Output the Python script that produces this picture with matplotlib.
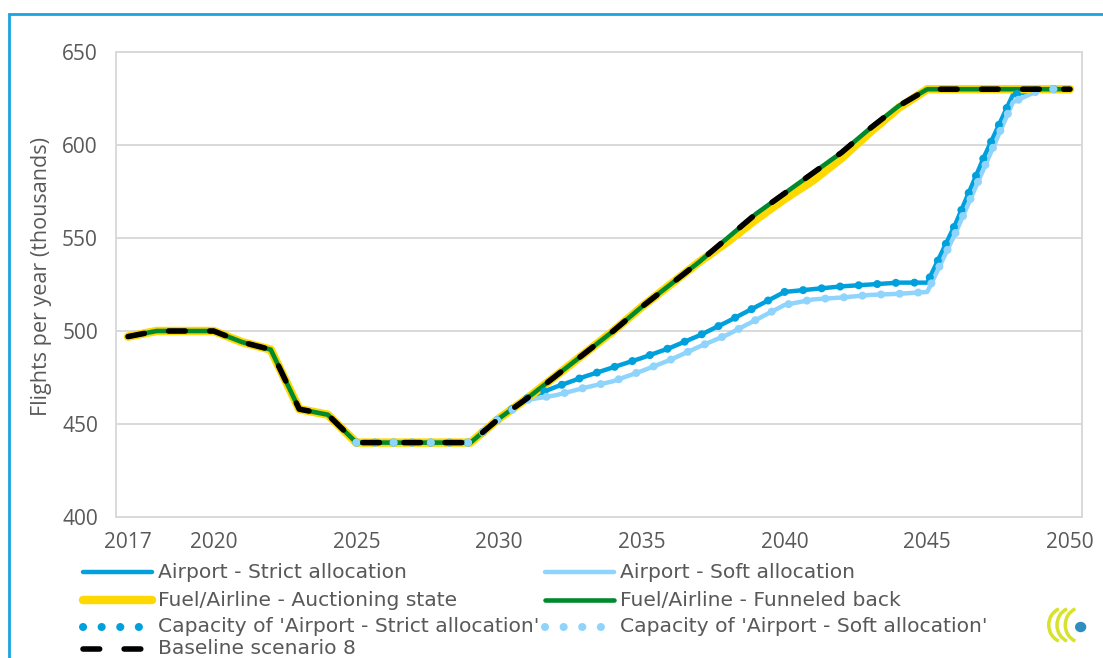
import matplotlib
matplotlib.use('Agg')
import matplotlib.pyplot as plt
from matplotlib.lines import Line2D
from matplotlib.patches import Rectangle, Arc, Circle

plt.rcParams['font.family'] = ['Open Sans', 'DejaVu Sans']

# --- data (thousand flights per year) ---
years = list(range(2017, 2051))

baseline = [497, 500, 500, 500, 494, 490, 458, 455, 440, 440, 440, 440, 440,
            453, 464, 476, 488, 500, 513, 525, 537, 550, 563, 574, 585, 596,
            609, 621, 630, 630, 630, 630, 630, 630]
funneled = [497, 500, 500, 500, 494, 490, 458, 455, 440, 440, 440, 440, 440,
            453, 464, 476, 488, 500, 513, 525, 537, 550, 563, 574, 585, 596,
            609, 621, 630, 630, 630, 630, 630, 630]
auctioning = [497, 500, 500, 500, 494, 490, 458, 455, 440, 440, 440, 440, 440,
              453, 464, 476, 488, 500, 513, 525, 537, 548, 560, 571, 581, 593,
              607, 620, 630, 630, 630, 630, 630, 630]
strict = [497, 500, 500, 500, 494, 490, 458, 455, 440, 440, 440, 440, 440,
          453, 464, 470, 475.5, 480.5, 485.5, 491, 497.5, 505, 513, 521, 522.5,
          524, 525, 526, 526, 558, 594, 627, 630, 630]
soft = [497, 500, 500, 500, 494, 490, 458, 455, 440, 440, 440, 440, 440,
        453, 463, 465.5, 469.5, 473, 478.5, 484.5, 491.5, 498, 506, 514, 517,
        518, 519.4, 520, 521, 553, 588, 623, 630, 630]

# capacity series only start in 2025
cap_years = years[8:]
cap_strict = strict[8:]
cap_soft = soft[8:]

xticks = [2017, 2020, 2025, 2030, 2035, 2040, 2045, 2050]
yticks = [400, 450, 500, 550, 600, 650]

labels = ["Airport - Strict allocation", "Airport - Soft allocation",
          "Fuel/Airline - Auctioning state", "Fuel/Airline - Funneled back",
          "Capacity of 'Airport - Strict allocation'", "Capacity of 'Airport - Soft allocation'",
          "Baseline scenario 8"]

C_STRICT = '#00A0DC'
C_SOFT = '#8FD4FC'
C_YELLOW = '#FFD800'
C_GREEN = '#00892F'
C_TEXT = '#595959'
C_GRID = '#D9D9D9'

W, H = 1103, 658
fig = plt.figure(figsize=(W / 100, H / 100), dpi=100)


def fx(px):
    return px / W


def fy(py):
    return 1 - py / H


ax = fig.add_axes([fx(116), fy(517), fx(1082) - fx(116), fy(52) - fy(517)])

styles = [
    dict(color=C_STRICT, lw=3.2, zorder=2),
    dict(color=C_SOFT, lw=3.2, zorder=2.1),
    dict(color=C_YELLOW, lw=6.1, zorder=3),
    dict(color=C_GREEN, lw=3.3, zorder=4),
    dict(color=C_STRICT, lw=5.8, linestyle=(0, (0.01, 2.3)), dash_capstyle='round', zorder=5),
    dict(color=C_SOFT, lw=5.8, linestyle=(0, (0.01, 2.3)), dash_capstyle='round', zorder=6),
    dict(color='black', lw=4, linestyle=(0, (3, 4.4)), dash_capstyle='round', zorder=7),
]
series = [(years, strict), (years, soft), (years, auctioning), (years, funneled),
          (cap_years, cap_strict), (cap_years, cap_soft), (years, baseline)]

for (xs, ys), st in zip(series, styles):
    ax.plot(xs, ys, solid_capstyle='round', solid_joinstyle='round', **st)

ax.set_xlim(2017 - 12 / 28.55, 2050 + 12 / 28.55)
ax.set_ylim(400, 650)
ax.set_xticks(xticks)
ax.set_yticks(yticks)
ax.tick_params(length=0, labelsize=15, colors=C_TEXT)
ax.tick_params(axis='x', pad=11)
ax.tick_params(axis='y', pad=13)
ax.grid(axis='y', color=C_GRID, lw=1.4)
ax.set_axisbelow(True)
for sp in ax.spines.values():
    sp.set_color(C_GRID)
    sp.set_linewidth(1.4)

fig.text(fx(42), fy(276), 'Flights per year (thousands)', rotation=90,
         ha='center', va='center', fontsize=15.5, color=C_TEXT)

# legend, two columns below the plot
rows = [572, 600, 627, 649]
cols = [(80, 155, 158), (542, 617, 620)]
for i, (lab, st) in enumerate(zip(labels, styles)):
    r, c = divmod(i, 2)
    x0, x1, xt = cols[c]
    y = fy(rows[r])
    kw = dict(st)
    kw.pop('zorder')
    ln = Line2D([fx(x0 + 3), fx(x1 - 3)], [y, y], transform=fig.transFigure,
                solid_capstyle='round', **kw)
    fig.add_artist(ln)
    fig.text(fx(xt), y, lab, ha='left', va='center', fontsize=14.6,
             family='DejaVu Sans', color=C_TEXT)

# outer frame
fig.add_artist(Rectangle((fx(9), fy(700)), fx(1200), fy(14) - fy(700), transform=fig.transFigure,
                         fill=False, edgecolor='#1AA3E0', lw=2))

# small logo in bottom right corner
lax = fig.add_axes([fx(1035), fy(650), fx(55), fy(600) - fy(650)])
lax.set_xlim(0, 10)
lax.set_ylim(0, 10)
lax.axis('off')
for cx in [3.0, 4.5, 6.0]:
    lax.add_patch(Arc((cx + 2.5, 5), 6, 7, theta1=110, theta2=250, color='#D8E22A', lw=2.5))
lax.add_patch(Circle((8.3, 4.6), 0.9, color='#2C8FC0'))

plt.savefig('out.png', dpi=100)
